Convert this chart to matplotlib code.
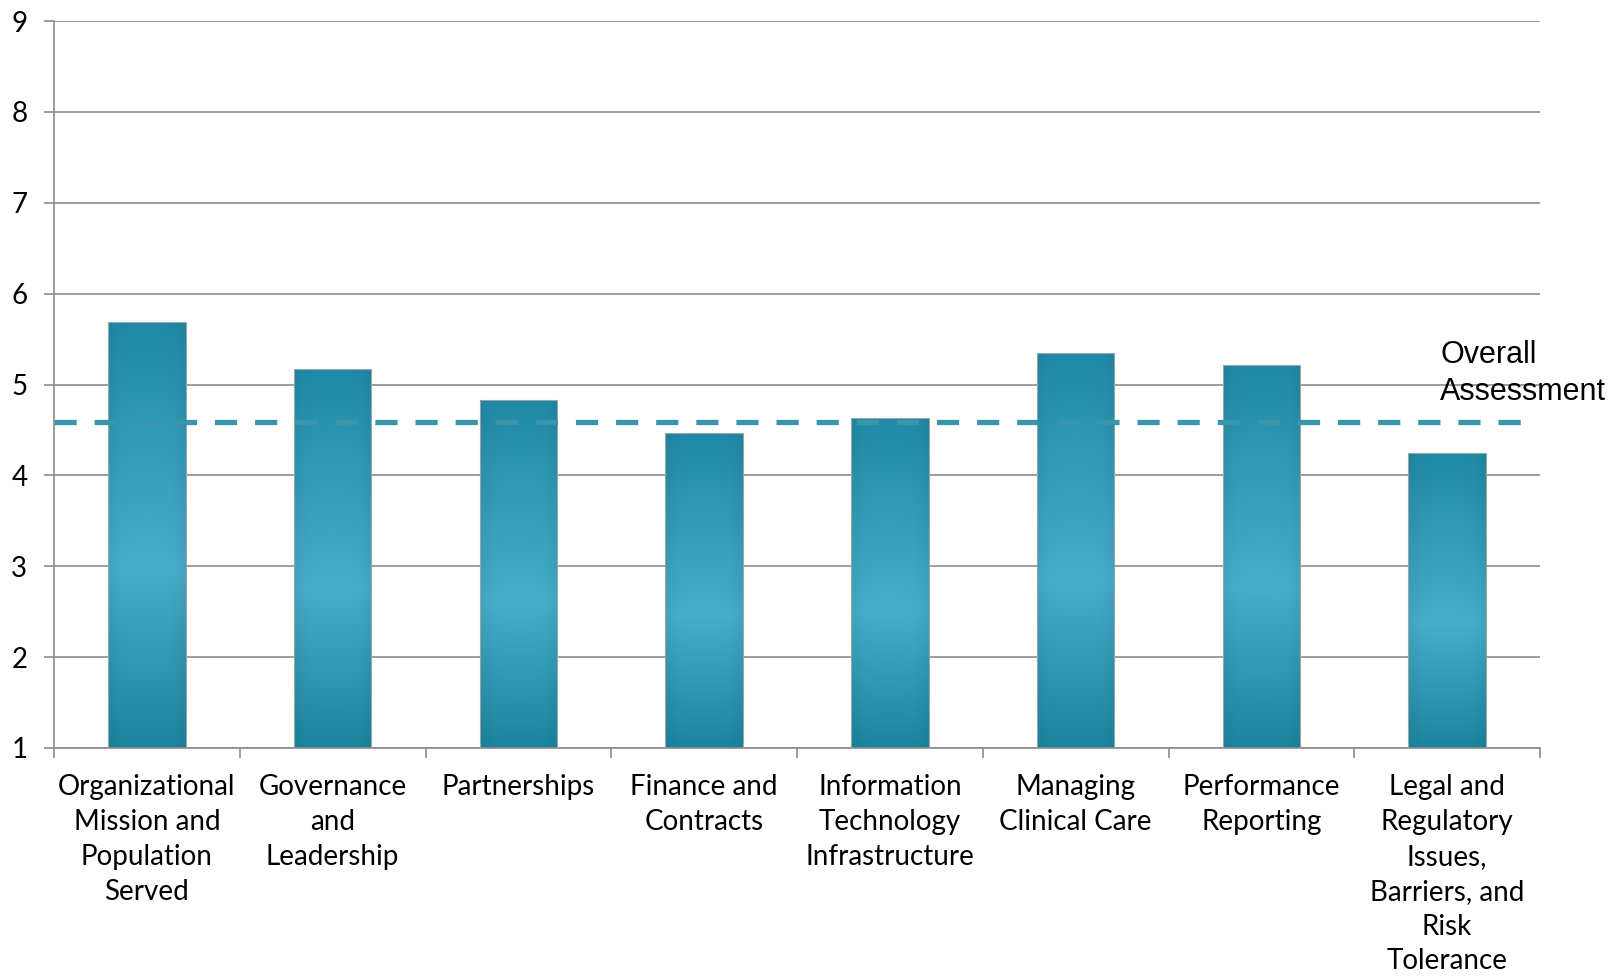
import numpy as np
import matplotlib
matplotlib.use("Agg")
import matplotlib.pyplot as plt
from matplotlib.colors import to_rgb

categories = ["Organizational\nMission and\nPopulation\nServed",
              "Governance\nand\nLeadership",
              "Partnerships",
              "Finance and\nContracts",
              "Information\nTechnology\nInfrastructure",
              "Managing\nClinical Care",
              "Performance\nReporting",
              "Legal and\nRegulatory\nIssues,\nBarriers, and\nRisk\nTolerance"]
scores = [5.69, 5.17, 4.83, 4.47, 4.63, 5.35, 5.21, 4.25]
overall = 4.59
yticks = [1, 2, 3, 4, 5, 6, 7, 8, 9]

FONT = "Lato"
fig = plt.figure(figsize=(16.10, 9.76), dpi=100)
ax = fig.add_axes([54/1610, 1-748/976, (1540-54)/1610, (748-21)/976])

x = np.arange(len(categories))
grid_c = "#8c8c8c"
ax.set_xlim(-0.5, len(categories)-0.5)
ax.set_ylim(1, 9)

for yv in yticks:
    ax.axhline(yv, color=grid_c, lw=1.2, zorder=1)

dark_top = np.array(to_rgb("#1f8aa6"))
light = np.array(to_rgb("#45aecb"))
dark_bot = np.array(to_rgb("#1b859f"))

bars = ax.bar(x, np.array(scores)-1, bottom=1, width=0.417, facecolor="none",
              edgecolor="#9aa5a8", linewidth=0.8, zorder=3)
for b in bars:
    x0, y0 = b.get_x(), b.get_y()
    w, h = b.get_width(), b.get_height()
    t = np.linspace(0, 1, 200)[:, None]  # bottom->top
    mid = 0.42
    col = np.where(t < mid,
                   dark_bot + (light - dark_bot) * (t / mid),
                   light + (dark_top - light) * ((t - mid) / (1 - mid)))
    s = np.linspace(-1, 1, 60)[None, :]
    shade = 1 - 0.06 * s**4
    img = col[:, None, :] * shade[:, :, None]
    img = np.clip(img, 0, 1)
    im = ax.imshow(img, extent=[x0, x0+w, y0, y0+h], origin="lower",
                   aspect="auto", zorder=2, interpolation="bilinear")
    im.set_clip_path(b)

ax.axhline(overall, color="#3a95aa", lw=3.8, ls=(0, (4.2, 3.4)), zorder=4,
           xmin=0, xmax=0.995)
ax.text(1440/1610, 1-340/976, "Overall\nAssessment", transform=fig.transFigure,
        ha="left", va="top", fontsize=22, family="Liberation Sans",
        linespacing=1.3, color="black")

ax.set_xticks(x)
ax.set_xticklabels(categories, family=FONT, fontsize=20, linespacing=1.42,
                   ha="center", va="top")
ax.tick_params(axis="x", which="major", length=0, pad=19)
ax.set_xticks(np.arange(-0.5, len(categories)), minor=True)
ax.tick_params(axis="x", which="minor", length=7, width=1.2, color=grid_c, direction="out")

ax.set_yticks(yticks)
ax.set_yticklabels([str(v) for v in yticks], family=FONT, fontsize=20)
for lab in ax.get_yticklabels():
    lab.set_horizontalalignment("center")
ax.tick_params(axis="y", length=7, width=1.2, color=grid_c, pad=18)

for sp in ["top", "right"]:
    ax.spines[sp].set_visible(False)
for sp in ["left", "bottom"]:
    ax.spines[sp].set_color(grid_c)
    ax.spines[sp].set_linewidth(1.2)

fig.savefig("out.png", dpi=100, facecolor="white")
